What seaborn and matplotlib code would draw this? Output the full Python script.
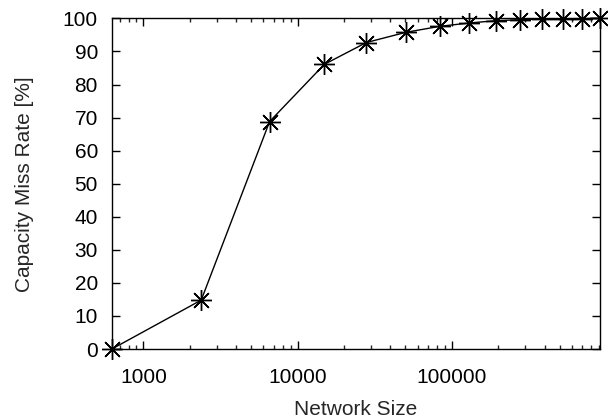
import matplotlib
matplotlib.use("Agg")
import matplotlib.pyplot as plt
import matplotlib.ticker as mticker
import seaborn as sns
import pandas as pd

network_size = [624, 2370, 6580, 14900, 27900, 50500, 83600, 129500,
                192500, 278000, 387500, 528500, 700000, 916000]
miss_rate = [0.0, 14.8, 68.8, 86.1, 92.7, 95.8, 97.6, 98.6,
             99.3, 99.6, 99.8, 99.9, 99.95, 100.0]
x_ticks = [1000, 10000, 100000]
x_tick_labels = ["1000", "10000", "100000"]
y_ticks = list(range(0, 101, 10))

df = pd.DataFrame({"size": network_size, "rate": miss_rate})

sns.set_style("ticks")
plt.rcParams["font.family"] = ["Liberation Sans", "DejaVu Sans"]

fig = plt.figure(figsize=(6.08, 4.18), dpi=100)
ax = fig.add_axes([0.184, 0.165, 0.803, 0.791])

sns.lineplot(data=df, x="size", y="rate", ax=ax, color="black", linewidth=1.0,
             marker=(8, 2, 0), markersize=15, markeredgewidth=1.0,
             markeredgecolor="black", clip_on=False)

ax.set_xscale("log")
ax.set_xlim(network_size[0], network_size[-1])
ax.set_ylim(0, 100)
ax.set_xticks(x_ticks)
ax.set_xticklabels(x_tick_labels)
ax.xaxis.set_minor_locator(mticker.LogLocator(base=10, subs=range(2, 10), numticks=20))
ax.xaxis.set_minor_formatter(mticker.NullFormatter())
ax.set_yticks(y_ticks)

fs = 15
ax.tick_params(axis="both", which="major", direction="in", length=6, width=1,
               top=True, right=True, labelsize=fs, colors="black")
ax.tick_params(axis="x", which="major", pad=14)
ax.tick_params(axis="y", which="major", pad=10)
ax.tick_params(axis="x", which="minor", direction="in", length=3, width=1,
               top=True, bottom=True)
for s in ax.spines.values():
    s.set_visible(True)
    s.set_linewidth(1.0)
    s.set_color("black")

ax.set_xlabel("Network Size", fontsize=fs, labelpad=9)
ax.set_ylabel("Capacity Miss Rate [%]", fontsize=fs, labelpad=21)

fig.savefig("out.png", dpi=100)
